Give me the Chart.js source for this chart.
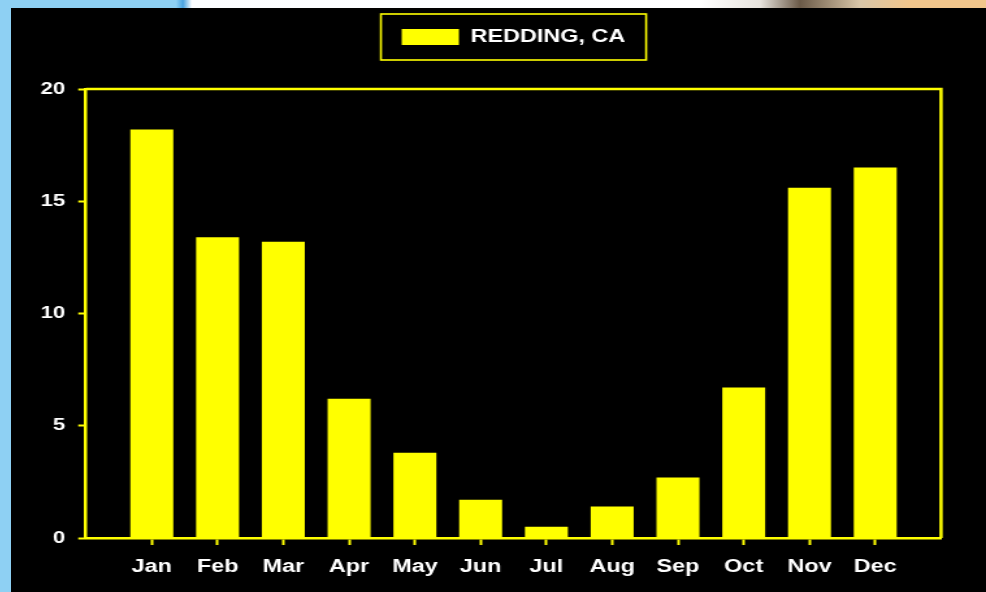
<!DOCTYPE html>
<html>
<head>
<meta charset="utf-8">
<script src="https://cdn.jsdelivr.net/npm/chart.js@4/dist/chart.umd.min.js"></script>
<style>
  html, body { margin: 0; padding: 0; background: #000; width: 986px; height: 592px; overflow: hidden; }
  #side { position: absolute; left: 0; top: 0; width: 11px; height: 592px; background: #8ed0f3; }
  #topstrip { position: absolute; left: 0; top: 0; width: 986px; height: 8px;
    background: linear-gradient(to right, #8ed0f3 0, #8ed0f3 176px, #4aa3e0 183px, #fbfdff 192px, #ffffff 700px, #e8e4de 760px, #6b5a48 800px, #d9c6a8 860px, #f2c68c 910px, #f2c68c 986px); }
  /* the reference is stretched sideways, so the canvas is too */
  #wrap { position: absolute; left: 11px; top: 8px; width: 750px; height: 584px;
    transform: scaleX(1.3); transform-origin: 0 0; }
</style>
</head>
<body>
<div id="side"></div>
<div id="topstrip"></div>
<div id="wrap"><canvas id="rainChart" width="750" height="584"></canvas></div>
<script>
// Data
const months = ['Jan', 'Feb', 'Mar', 'Apr', 'May', 'Jun', 'Jul', 'Aug', 'Sep', 'Oct', 'Nov', 'Dec'];
const rainfall = [18.2, 13.4, 13.2, 6.2, 3.8, 1.7, 0.5, 1.4, 2.7, 6.7, 15.6, 16.5];
const seriesName = 'REDDING, CA';
const yTicks = [0, 5, 10, 15, 20];

const yellow = '#ffff00';
Chart.defaults.font.family = '"Liberation Sans", Arial, sans-serif';
Chart.defaults.font.weight = 'bold';
Chart.defaults.color = '#ffffff';

// empty slot on each side, like the original axis
const labels = [''].concat(months, ['']);
const values = [null].concat(rainfall, [null]);

const framePlugin = {
    id: 'frame',
    beforeLayout(chart) {
        // extra room under the legend
        const lg = chart.legend;
        if (lg && !lg._patched) {
            const fit = lg.fit;
            lg.fit = function () { fit.call(this); this.height += 33; };
            lg._patched = true;
        }
    },
    afterDraw(chart) {
        const ctx = chart.ctx;
        const a = chart.chartArea;
        ctx.save();
        ctx.strokeStyle = yellow;
        ctx.lineWidth = 2.5;
        ctx.beginPath();
        ctx.moveTo(a.left, a.top);
        ctx.lineTo(a.right, a.top);
        ctx.lineTo(a.right, a.bottom);
        ctx.stroke();
        // box round the legend
        const hb = chart.legend.legendHitBoxes[0];
        if (hb) {
            const w = hb.width + 32;
            const cx = (a.left + a.right) / 2;
            ctx.lineWidth = 1.6;
            ctx.strokeRect(cx - w / 2, hb.top - 14, w, hb.height + 28);
        }
        ctx.restore();
    }
};

const ctx = document.getElementById('rainChart').getContext('2d');
const rainChart = new Chart(ctx, {
    type: 'bar',
    data: {
        labels: labels,
        datasets: [{
            label: seriesName,
            data: values,
            backgroundColor: yellow,
            borderWidth: 0,
            categoryPercentage: 1,
            barPercentage: 0.653
        }]
    },
    options: {
        responsive: false,
        animation: false,
        layout: { padding: { left: 0, right: 34.6, top: 0, bottom: 0 } },
        plugins: {
            tooltip: { enabled: false },
            legend: {
                position: 'top',
                fullSize: false,
                labels: {
                    color: '#ffffff',
                    boxWidth: 44,
                    boxHeight: 16,
                    padding: 20,
                    font: { size: 18, weight: 'bold' }
                }
            }
        },
        scales: {
            x: {
                offset: false,
                grid: {
                    offset: false,
                    drawOnChartArea: false,
                    drawTicks: true,
                    tickLength: 7,
                    tickWidth: 2,
                    tickColor: c => (c.tick && c.tick.label === '') ? 'rgba(0,0,0,0)' : yellow
                },
                border: { display: true, color: yellow, width: 2.5 },
                ticks: { color: '#ffffff', padding: 11, maxRotation: 0, autoSkip: false, font: { size: 18, weight: 'bold' } },
                afterFit: s => { s.height = 54; }
            },
            y: {
                min: 0,
                max: 20,
                afterBuildTicks: s => { s.ticks = yTicks.map(v => ({ value: v })); },
                grid: {
                    drawOnChartArea: false,
                    drawTicks: true,
                    tickLength: 6,
                    tickWidth: 2,
                    tickColor: yellow
                },
                border: { display: true, color: yellow, width: 2.5 },
                ticks: { color: '#ffffff', padding: 10, font: { size: 17, weight: 'bold' } },
                afterFit: s => { s.width = 57.7; }
            }
        }
    },
    plugins: [framePlugin]
});
</script>
</body>
</html>
